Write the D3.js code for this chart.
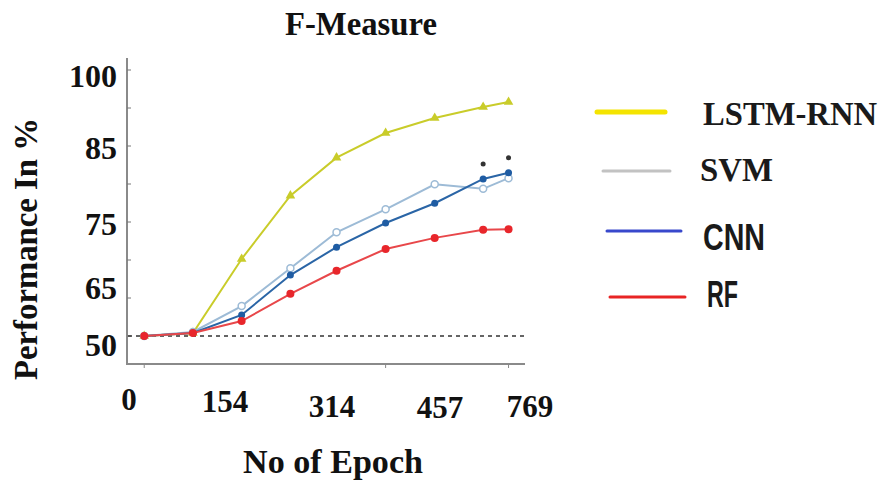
<!DOCTYPE html>
<html>
<head>
<meta charset="utf-8">
<script src="https://cdn.jsdelivr.net/npm/d3@7"></script>
<style>
  body { margin: 0; background: #fff; }
  text { font-family: "Liberation Serif", "Times New Roman", serif; font-weight: bold; }
</style>
</head>
<body>
<script>
// chart data

var epochs = [25, 100, 175, 250, 320, 385, 450, 610, 700];

var lstm = [50, 50.9, 69.2, 78.6, 83.6, 87.8, 90.8, 93.0, 94.0];
var svm  = [50, 51.2, 58.8, 67.7, 73.5, 76.8, 80.1, 79.5, 80.9];
var cnn  = [50, 50.9, 56.2, 66.6, 71.1, 75.0, 77.6, 80.8, 81.6];
var rf   = [50, 50.9, 54.4, 62.4, 67.3, 70.8, 72.6, 73.9, 74.0];

var xTickLabels = [0, 154, 314, 457, 769];
var yTickLabels = [50, 65, 75, 85, 100];

var seriesNames = ['LSTM-RNN', 'SVM', 'CNN', 'RF'];

var width = 887,
    height = 482;

var svg = d3.select('body')
  .append('svg')
  .attr('width', width)
  .attr('height', height);

// the axis labels are not evenly spaced in the original, so use polylinear scales
var x = d3.scaleLinear()
  .domain(xTickLabels)
  .range([128, 228, 332, 440, 528]);

var y = d3.scaleLinear()
  .domain(yTickLabels)
  .range([336, 285, 223, 147, 72]);

var axisColor = '#8a8a8a';

// axes lines
svg.append('line')
  .attr('x1', 127).attr('x2', 127)
  .attr('y1', 58).attr('y2', 365)
  .attr('stroke', axisColor).attr('stroke-width', 2);

svg.append('line')
  .attr('x1', 126).attr('x2', 525)
  .attr('y1', 364).attr('y2', 364)
  .attr('stroke', axisColor).attr('stroke-width', 2);

// small evenly spaced ticks on the y axis
d3.range(8).forEach(function(i) {
  var ty = 70 + i * 38;
  svg.append('line')
    .attr('x1', 127).attr('x2', 131)
    .attr('y1', ty).attr('y2', ty)
    .attr('stroke', '#777').attr('stroke-width', 1);
});

// ticks on the x axis under a few points
[0, 5, 8].forEach(function(i) {
  svg.append('line')
    .attr('x1', x(epochs[i])).attr('x2', x(epochs[i]))
    .attr('y1', 364).attr('y2', 368)
    .attr('stroke', '#888').attr('stroke-width', 1);
});

// y tick labels (small nudges to sit where the original had them)
var yNudge = { 50: 9, 65: 3, 75: 1, 85: 1, 100: 4 };
svg.selectAll('.ylab')
  .data(yTickLabels)
  .enter().append('text')
  .attr('class', 'ylab')
  .attr('x', 117)
  .attr('y', function(d) { return y(d) + yNudge[d]; })
  .attr('dy', '0.35em')
  .attr('text-anchor', 'end')
  .attr('font-size', 32)
  .attr('fill', '#111')
  .text(function(d) { return d; });

// x tick labels
var xNudge = { 0: [1, 410], 154: [-3, 412], 314: [0, 417], 457: [0, 418], 769: [2, 417] };
svg.selectAll('.xlab')
  .data(xTickLabels)
  .enter().append('text')
  .attr('class', 'xlab')
  .attr('x', function(d) { return x(d) + xNudge[d][0]; })
  .attr('y', function(d) { return xNudge[d][1]; })
  .attr('text-anchor', 'middle')
  .attr('font-size', 31)
  .attr('fill', '#111')
  .text(function(d) { return d; });

// title and axis titles
svg.append('text')
  .attr('x', 285).attr('y', 35)
  .attr('font-size', 33)
  .attr('textLength', 152)
  .attr('lengthAdjust', 'spacingAndGlyphs')
  .attr('fill', '#111')
  .text('F-Measure');

svg.append('text')
  .attr('transform', 'translate(37,380) rotate(-90)')
  .attr('font-size', 33)
  .attr('textLength', 262)
  .attr('lengthAdjust', 'spacingAndGlyphs')
  .attr('fill', '#111')
  .text('Performance In %');

svg.append('text')
  .attr('x', 243).attr('y', 473)
  .attr('font-size', 33)
  .attr('textLength', 180)
  .attr('lengthAdjust', 'spacingAndGlyphs')
  .attr('fill', '#111')
  .text('No of Epoch');

// dashed baseline at 50
svg.append('line')
  .attr('x1', x(0)).attr('x2', 525)
  .attr('y1', y(50)).attr('y2', y(50))
  .attr('stroke', '#333')
  .attr('stroke-width', 1.3)
  .attr('stroke-dasharray', '4,4');

var line = d3.line()
  .x(function(d, i) { return x(epochs[i]); })
  .y(function(d) { return y(d); });

function drawSeries(values, color, width) {
  svg.append('path')
    .datum(values)
    .attr('d', line)
    .attr('fill', 'none')
    .attr('stroke', color)
    .attr('stroke-width', width);
}

// LSTM-RNN with triangles
drawSeries(lstm, '#c9cc2a', 2);
svg.selectAll('.tri')
  .data(lstm)
  .enter().append('path')
  .attr('class', 'tri')
  .attr('d', d3.symbol().type(d3.symbolTriangle).size(40))
  .attr('transform', function(d, i) { return 'translate(' + x(epochs[i]) + ',' + y(d) + ')'; })
  .attr('fill', '#c9cc2a');

// SVM with hollow markers
drawSeries(svm, '#9dbbd6', 2);
svg.selectAll('.svmpt')
  .data(svm)
  .enter().append('circle')
  .attr('class', 'svmpt')
  .attr('cx', function(d, i) { return x(epochs[i]); })
  .attr('cy', function(d) { return y(d); })
  .attr('r', 3.5)
  .attr('fill', '#fff')
  .attr('stroke', '#9dbbd6')
  .attr('stroke-width', 1.5);

// CNN filled blue
drawSeries(cnn, '#2a65a6', 2);
svg.selectAll('.cnnpt')
  .data(cnn)
  .enter().append('circle')
  .attr('class', 'cnnpt')
  .attr('cx', function(d, i) { return x(epochs[i]); })
  .attr('cy', function(d) { return y(d); })
  .attr('r', 3.5)
  .attr('fill', '#1f5ca3');

// RF red
drawSeries(rf, '#e8474a', 2);
svg.selectAll('.rfpt')
  .data(rf)
  .enter().append('circle')
  .attr('class', 'rfpt')
  .attr('cx', function(d, i) { return x(epochs[i]); })
  .attr('cy', function(d) { return y(d); })
  .attr('r', 4)
  .attr('fill', '#e8262b');

// asterisks above the last two CNN points
[7, 8].forEach(function(i) {
  svg.append('circle')
    .attr('cx', x(epochs[i]))
    .attr('cy', y(cnn[i]) - 15)
    .attr('r', 2.5)
    .attr('fill', '#333');
});

// legend
var legendColors = ['#f4e400', '#c2c2c2', '#3848cc', '#e82424'];
var legendWidths = [5, 3, 3, 3];
var legendLines = [[597, 665, 112], [603, 670, 171], [607, 681, 231], [610, 685, 297]];
var legendText = [[703, 125, 174, 34], [700, 181, 73, 33], [703, 250, 62, 36], [707, 307, 31, 36]];
var legendFonts = ['"Liberation Serif", serif', '"Liberation Serif", serif', '"Liberation Sans", Arial, sans-serif', '"Liberation Sans", Arial, sans-serif'];

seriesNames.forEach(function(name, i) {
  var l = legendLines[i],
      t = legendText[i];
  svg.append('line')
    .attr('x1', l[0]).attr('x2', l[1])
    .attr('y1', l[2]).attr('y2', l[2])
    .attr('stroke', legendColors[i])
    .attr('stroke-width', legendWidths[i])
    .attr('stroke-linecap', 'round');
  svg.append('text')
    .attr('x', t[0])
    .attr('y', t[1])
    .attr('font-size', t[3])
    .attr('textLength', t[2])
    .attr('lengthAdjust', 'spacingAndGlyphs')
    .style('font-family', legendFonts[i])
    .attr('fill', '#1a1a1a')
    .text(name);
});
</script>
</body>
</html>
